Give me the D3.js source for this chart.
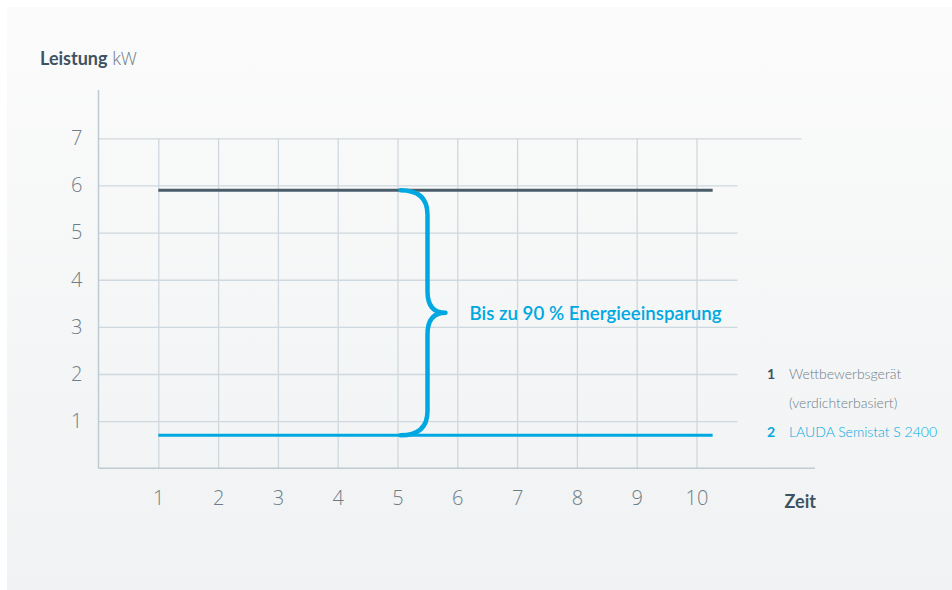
<!DOCTYPE html>
<html>
<head>
<meta charset="utf-8">
<script src="https://cdn.jsdelivr.net/npm/d3@7"></script>
<style>
  html, body { margin: 0; padding: 0; background: #fff; }
  svg { display: block; font-family: Lato, "Open Sans", sans-serif; }
  .light { font-family: "Open Sans", Lato, sans-serif; font-weight: 300; }
</style>
</head>
<body>
<div id="chart"></div>
<script>
// chart data
var xTicks = [1, 2, 3, 4, 5, 6, 7, 8, 9, 10];
var yTicks = [1, 2, 3, 4, 5, 6, 7];
var seriesNames = ['Wettbewerbsgerät', 'LAUDA Semistat S 2400'];
var seriesX = [1, 10.27];
var competitorValues = [5.9, 5.9];
var laudaValues = [0.7, 0.7];
var braceX = 5.05;
var braceLabel = 'Bis zu 90 % Energieeinsparung';

var width = 952, height = 590;
var darkColor = '#4a5e6a', blueColor = '#00a8e1', gridColor = '#cfd8de', axisColor = '#bfcbd3';
var textColor = '#6e7d87', titleColor = '#3e5361';

var svg = d3.select('#chart').append('svg')
   .attr('width', width)
   .attr('height', height);

// panel background
var grad = svg.append('defs').append('linearGradient')
   .attr('id', 'bg').attr('x1', 0).attr('y1', 0).attr('x2', 0).attr('y2', 1);
grad.append('stop').attr('offset', '0%').attr('stop-color', '#fbfbfb');
grad.append('stop').attr('offset', '100%').attr('stop-color', '#f0f2f3');
svg.append('rect')
   .attr('x', 7).attr('y', 7)
   .attr('width', width - 7).attr('height', height - 7)
   .attr('fill', 'url(#bg)');

var x = d3.scaleLinear().domain([0, 10]).range([98.5, 696.5]);
var y = d3.scaleLinear().domain([0, 7]).range([468.3, 138.3]);

//horizontal grid + y labels
var yAxis = svg.append('g')
   .attr('transform', 'translate(' + x(0) + ',0)')
   .call(d3.axisLeft(y).tickValues(yTicks).tickFormat(d3.format('d')).tickSize(0).tickPadding(16));
yAxis.select('.domain').remove();
yAxis.selectAll('.tick line')
   .attr('x1', 0)
   .attr('x2', function (d) { return d == 7 ? 703 : 639 })
   .attr('stroke', gridColor).attr('stroke-width', 1.3);
yAxis.selectAll('.tick text')
   .attr('class', 'light')
   .attr('fill', textColor)
   .attr('font-size', '20px');

//vertical grid + x labels
var xAxis = svg.append('g')
   .attr('transform', 'translate(0,' + y(0) + ')')
   .call(d3.axisBottom(x).tickValues(xTicks).tickFormat(d3.format('d')).tickSize(0).tickPadding(23));
xAxis.select('.domain').remove();
xAxis.selectAll('.tick line')
   .attr('y1', 0)
   .attr('y2', y(7) - y(0))
   .attr('stroke', gridColor).attr('stroke-width', 1.3);
xAxis.selectAll('.tick text')
   .attr('class', 'light')
   .attr('fill', textColor)
   .attr('font-size', '20px');

// axis lines
svg.append('line')
   .attr('x1', x(0)).attr('x2', x(0))
   .attr('y1', 90).attr('y2', y(0))
   .attr('stroke', axisColor).attr('stroke-width', 1.5);
svg.append('line')
   .attr('x1', x(0)).attr('x2', 815)
   .attr('y1', y(0)).attr('y2', y(0))
   .attr('stroke', axisColor).attr('stroke-width', 1.5);

// series lines
var line = d3.line()
   .x(function (d) { return x(d[0]) })
   .y(function (d) { return y(d[1]) });
svg.append('path')
   .attr('d', line(d3.zip(seriesX, competitorValues)))
   .attr('fill', 'none').attr('stroke', darkColor).attr('stroke-width', 3);
svg.append('path')
   .attr('d', line(d3.zip(seriesX, laudaValues)))
   .attr('fill', 'none').attr('stroke', blueColor).attr('stroke-width', 3);

// brace between both lines
var bx = x(braceX), yTop = y(competitorValues[0]), yBot = y(laudaValues[0]);
var mid = (yTop + yBot) / 2, r = 27, tip = 18;
var brace = d3.path();
brace.moveTo(bx, yTop);
brace.quadraticCurveTo(bx + r, yTop, bx + r, yTop + r * 0.9);
brace.lineTo(bx + r, mid - r * 0.8);
brace.quadraticCurveTo(bx + r, mid, bx + r + tip, mid);
brace.quadraticCurveTo(bx + r, mid, bx + r, mid + r * 0.8);
brace.lineTo(bx + r, yBot - r * 0.9);
brace.quadraticCurveTo(bx + r, yBot, bx, yBot);
svg.append('path')
   .attr('d', brace.toString())
   .attr('fill', 'none').attr('stroke', blueColor)
   .attr('stroke-width', 4.5).attr('stroke-linecap', 'round').attr('stroke-linejoin', 'round');

svg.append('text')
   .attr('x', bx + r + tip + 24).attr('y', mid + 7)
   .attr('fill', blueColor)
   .attr('font-size', '18.7px').attr('font-weight', 600)
   .text(braceLabel);

// axis titles
var title = svg.append('text')
   .attr('x', 40).attr('y', 65)
   .attr('font-size', '18px').attr('fill', titleColor);
title.append('tspan').attr('font-weight', 700).text('Leistung');
title.append('tspan').attr('class', 'light').attr('fill', textColor).text(' kW');

svg.append('text')
   .attr('x', 816).attr('y', 508)
   .attr('text-anchor', 'end')
   .attr('font-size', '18px').attr('font-weight', 700).attr('fill', titleColor)
   .text('Zeit');

// legend
var legend = [
   {num: '1', lines: [seriesNames[0], '(verdichterbasiert)'], color: textColor, numColor: titleColor, y: 379},
   {num: '2', lines: [seriesNames[1]], color: blueColor, numColor: blueColor, y: 437}
];
legend.forEach(function (l) {
   svg.append('text')
      .attr('x', 767).attr('y', l.y)
      .attr('font-size', '14px').attr('font-weight', 700).attr('fill', l.numColor)
      .text(l.num);
   l.lines.forEach(function (t, i) {
      svg.append('text')
         .attr('x', 789).attr('y', l.y + i * 29)
         .attr('font-size', '14px').attr('font-weight', 300).attr('fill', l.color)
         .text(t);
   });
});
</script>
</body>
</html>
